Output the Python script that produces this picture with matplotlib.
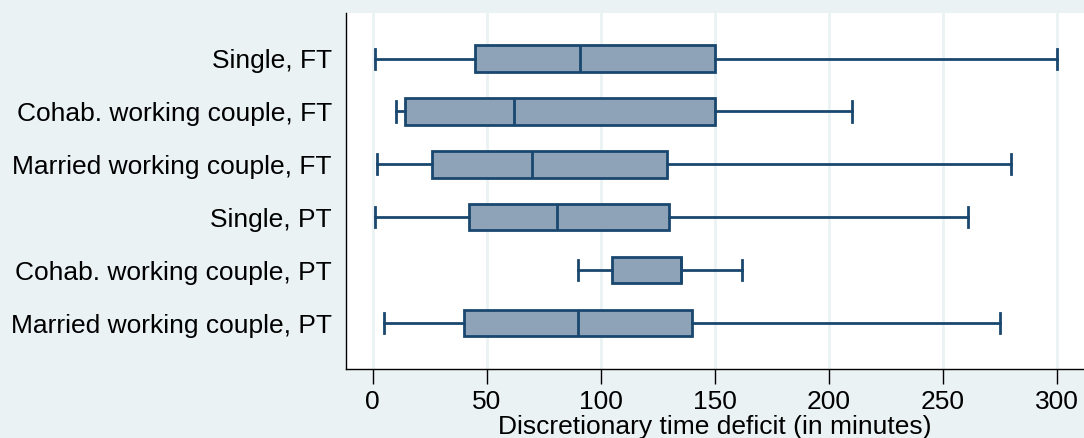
import matplotlib
matplotlib.use('Agg')
import matplotlib.pyplot as plt

# Box plot summary values (minutes)
groups = ['Single, FT', 'Cohab. working couple, FT', 'Married working couple, FT',
          'Single, PT', 'Cohab. working couple, PT', 'Married working couple, PT']
whisker_low = [1, 10, 2, 1, 90, 5]
q1 = [45, 14, 26, 42, 105, 40]
median = [91, 62, 70, 81, 135, 90]
q3 = [150, 150, 129, 130, 135, 140]
whisker_high = [300, 210, 280, 261, 162, 275]
xticks = [0, 50, 100, 150, 200, 250, 300]

navy = '#1a476f'
fill = '#8ea3b8'
bg = '#eaf2f3'

plt.rcParams['font.family'] = ['Liberation Sans', 'DejaVu Sans']

fig = plt.figure(figsize=(10.84, 4.38), dpi=100, facecolor=bg)
ax = fig.add_axes([0.319, 0.1575, 0.681, 0.8125])
ax.set_facecolor('white')

stats = []
for g, lo, a, m, b, hi in zip(groups, whisker_low, q1, median, q3, whisker_high):
    stats.append({'label': g, 'whislo': lo, 'q1': a, 'med': m, 'q3': b,
                  'whishi': hi, 'fliers': []})

positions = list(range(1, len(groups) + 1))
line = dict(color=navy, linewidth=2)
ax.bxp(stats, positions=positions, vert=False, widths=0.5, capwidths=0.38,
       patch_artist=True, showfliers=False,
       boxprops=dict(facecolor=fill, edgecolor=navy, linewidth=2),
       medianprops=line, whiskerprops=line, capprops=line, zorder=3)

ax.set_ylim(6.87, 0.14)
ax.set_xlim(-11.8, 311.8)
ax.set_xticks(xticks)
ax.set_xticklabels([str(t) for t in xticks], fontsize=19)
ax.set_yticks(positions)
ax.set_yticklabels(groups, fontsize=19)
ax.tick_params(axis='y', length=0, pad=10)
ax.tick_params(axis='x', length=11, width=1, color='black', pad=4)

ax.grid(axis='x', color=bg, linewidth=2, zorder=0)
ax.set_axisbelow(True)
for s in ['top', 'right']:
    ax.spines[s].set_visible(False)
for s in ['left', 'bottom']:
    ax.spines[s].set_color('black')
    ax.spines[s].set_linewidth(1)

ax.set_xlabel('Discretionary time deficit (in minutes)', fontsize=19, labelpad=1)

fig.savefig('out.png', dpi=100, facecolor=bg)
